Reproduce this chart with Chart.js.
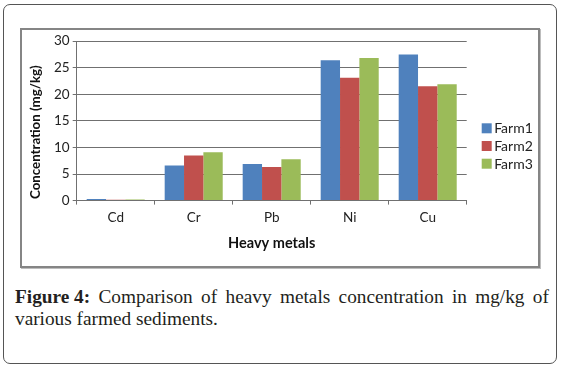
<!DOCTYPE html>
<html>
<head>
<meta charset="utf-8">
<script src="https://cdn.jsdelivr.net/npm/chart.js@4/dist/chart.umd.min.js"></script>
<style>
  html, body { margin: 0; padding: 0; background: #fff; }
  body { width: 562px; height: 373px; position: relative; overflow: hidden; }
  #outer {
    position: absolute; left: 3px; top: 4px; width: 552px; height: 358px;
    border: 1px solid #555; border-radius: 7px; box-sizing: content-box;
  }
  #inner {
    position: absolute; left: 20px; top: 28px; width: 516px; height: 236px;
    border: 2px solid #858585; box-shadow: 1px 1px 0 #bdbdbd;
  }
  #chartWrap { position: absolute; left: 0; top: 0; width: 516px; height: 236px; }
  #caption {
    position: absolute; left: 15px; top: 285.5px; width: 534px;
    font-family: "Liberation Serif", "DejaVu Serif", serif; font-size: 19.3px;
    line-height: 22.4px; color: #231f20;
  }
  #caption .l1 { display: flex; justify-content: space-between; white-space: nowrap; }
  #caption b { font-weight: bold; }
</style>
</head>
<body>
<div id="outer"></div>
<div id="inner"><div id="chartWrap"><canvas id="c"></canvas></div></div>
<div id="caption">
  <div class="l1"><span><b>Figure 4:</b></span><span>Comparison</span><span>of</span><span>heavy</span><span>metals</span><span>concentration</span><span>in</span><span>mg/kg</span><span>of</span></div>
  <div class="l2">various farmed sediments.</div>
</div>
<script>
const categories = ["Cd", "Cr", "Pb", "Ni", "Cu"];
const seriesNames = ["Farm1", "Farm2", "Farm3"];
const farm1 = [0.3, 6.6, 6.9, 26.4, 27.5];
const farm2 = [0.15, 8.5, 6.3, 23.1, 21.5];
const farm3 = [0.2, 9.1, 7.8, 26.8, 21.9];
const seriesColors = ["#4F81BD", "#C0504D", "#9BBB59"];
const yTicks = [0, 5, 10, 15, 20, 25, 30];

const FONT = "Lato, 'Open Sans', sans-serif";

const sideLegend = {
  id: "sideLegend",
  afterDraw(chart) {
    const ctx = chart.ctx;
    const area = chart.chartArea;
    const ds = chart.data.datasets;
    const x = area.right + 15;
    const cy = chart.height / 2 - 2;
    const step = 17.7;
    ctx.save();
    ctx.font = "14px " + FONT;
    ctx.textBaseline = "middle";
    ctx.textAlign = "left";
    ds.forEach((d, i) => {
      const y = cy + (i - (ds.length - 1) / 2) * step;
      ctx.fillStyle = d.backgroundColor;
      ctx.fillRect(x, y - 5, 10, 10);
      ctx.fillStyle = "#222";
      ctx.fillText(d.label, x + 12.5, y + 0.5);
    });
    ctx.restore();
  }
};

const datasets = [farm1, farm2, farm3].map((vals, i) => ({
  label: seriesNames[i],
  data: vals,
  backgroundColor: seriesColors[i],
  borderWidth: 0,
  categoryPercentage: 0.744,
  barPercentage: 1.0
}));

new Chart(document.getElementById("c"), {
  type: "bar",
  data: { labels: categories, datasets },
  options: {
    responsive: true,
    maintainAspectRatio: false,
    animation: false,
    events: [],
    layout: { padding: { top: 8, right: 71.3, bottom: 0, left: 0 } },
    plugins: { legend: { display: false }, tooltip: { enabled: false } },
    scales: {
      x: {
        grid: { display: true, drawOnChartArea: false, drawTicks: true, tickLength: 4, color: "#707070", offset: true },
        border: { display: true, color: "#707070", width: 1 },
        ticks: { color: "#222", font: { family: FONT, size: 13.5 }, padding: 5 },
        title: { display: true, text: "Heavy metals", color: "#111", font: { family: FONT, size: 14.5, weight: "bold" }, padding: { top: 0, bottom: 13.5 } },
        afterFit(scale) { scale.height = 65.4; }
      },
      y: {
        min: 0, max: 30,
        afterBuildTicks(scale) { scale.ticks = yTicks.map(v => ({ value: v })); },
        grid: { color: "#707070", lineWidth: 1, tickLength: 4, drawTicks: true },
        border: { display: true, color: "#707070", width: 1 },
        ticks: { color: "#222", font: { family: FONT, size: 13.5 }, padding: 3 },
        title: { display: true, text: "Concentration (mg/kg)\u00A0\u00A0\u00A0\u00A0\u00A0\u00A0\u00A0", color: "#111", font: { family: FONT, size: 13.3, weight: "bold" }, padding: { top: 6, bottom: 8 } },
        afterFit(scale) { scale.width = 54.7; }
      }
    }
  },
  plugins: [sideLegend]
});
</script>
</body>
</html>
